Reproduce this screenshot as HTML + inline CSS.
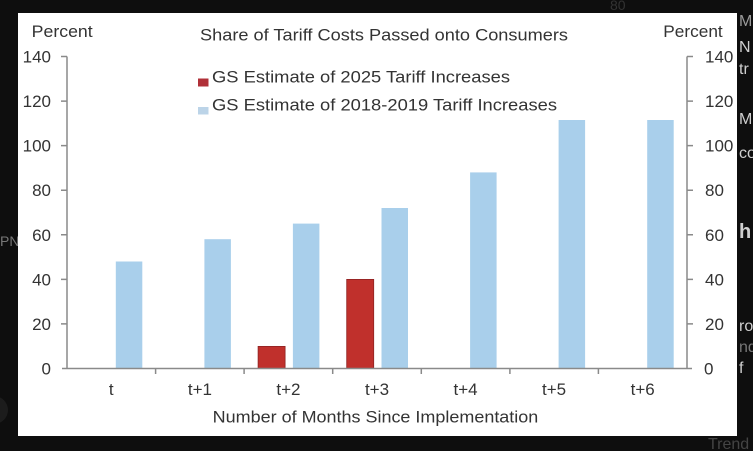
<!DOCTYPE html>
<html>
<head>
<meta charset="utf-8">
<style>
  html,body{margin:0;padding:0;background:#0e0e0e;}
  body{width:753px;height:451px;overflow:hidden;position:relative;}
  svg{position:absolute;left:0;top:0;}
</style>
</head>
<body>
<svg width="753" height="451" viewBox="0 0 753 451" xmlns="http://www.w3.org/2000/svg" font-family="Liberation Sans, Arial, sans-serif">
  <rect x="0" y="0" width="753" height="451" fill="#0e0e0e"/>
  <!-- faint background fragments -->
  <g fill="#cfcfcf" font-size="16">
    <text x="739" y="26" fill="#9a9a9a">M</text>
    <text x="739" y="52">N</text>
    <text x="739" y="74">tr</text>
    <text x="739" y="124">M</text>
    <text x="739" y="158">co</text>
    <text x="739" y="238" font-size="20" font-weight="bold">h</text>
    <text x="739" y="331">ro</text>
    <text x="739" y="352" fill="#777">nd</text>
    <text x="739" y="373">f</text>
    <text x="708" y="449" fill="#444">Trend</text>
    <text x="0" y="246" fill="#777" font-size="14">PN</text>
    <text x="610" y="10" fill="#333" font-size="14">80</text>
  </g>
  <circle cx="-6" cy="410" r="14" fill="#1c1c1c"/>

  <!-- white chart panel -->
  <rect x="18" y="13" width="719" height="423" fill="#ffffff"/>

  <!-- bars: blue -->
  <g fill="#a9cfeb">
    <rect x="115.8" y="261.5" width="26.5" height="107"/>
    <rect x="204.4" y="239.2" width="26.5" height="129.3"/>
    <rect x="292.9" y="223.6" width="26.5" height="144.9"/>
    <rect x="381.5" y="208.0" width="26.5" height="160.5"/>
    <rect x="470.1" y="172.4" width="26.5" height="196.1"/>
    <rect x="558.6" y="120.0" width="26.5" height="248.5"/>
    <rect x="647.2" y="120.0" width="26.5" height="248.5"/>
  </g>
  <!-- bars: red -->
  <g fill="#c0302c" stroke="#8e2222" stroke-width="0.8">
    <rect x="258.1" y="346.4" width="27" height="22.1"/>
    <rect x="346.7" y="279.4" width="27" height="89.1"/>
  </g>

  <!-- axes -->
  <g stroke="#8a8a8a" stroke-width="1.5" fill="none">
    <line x1="67" y1="56.5" x2="67" y2="369"/>
    <line x1="687" y1="56.5" x2="687" y2="369"/>
    <line x1="62" y1="368.5" x2="692" y2="368.5"/>
    <!-- left ticks -->
    <path d="M61 56.5H67 M61 101.1H67 M61 145.6H67 M61 190.2H67 M61 234.8H67 M61 279.4H67 M61 323.9H67"/>
    <!-- right ticks -->
    <path d="M687 56.5H693 M687 101.1H693 M687 145.6H693 M687 190.2H693 M687 234.8H693 M687 279.4H693 M687 323.9H693"/>
    <!-- x ticks -->
    <path d="M155.6 368.5V374 M244.1 368.5V374 M332.7 368.5V374 M421.3 368.5V374 M509.9 368.5V374 M598.4 368.5V374"/>
  </g>

  <g fill="#333333" font-size="17">
    <!-- headers -->
    <text x="31.7" y="37" textLength="61" lengthAdjust="spacingAndGlyphs">Percent</text>
    <text x="663.3" y="37" textLength="59.4" lengthAdjust="spacingAndGlyphs">Percent</text>
    <text x="200" y="40.5" textLength="368" lengthAdjust="spacingAndGlyphs">Share of Tariff  Costs Passed onto Consumers</text>

    <!-- legend -->
    <rect x="198" y="78.5" width="10.5" height="8" fill="#b03038"/>
    <text x="212" y="82.3" textLength="298" lengthAdjust="spacingAndGlyphs">GS Estimate of 2025 Tariff Increases</text>
    <rect x="198" y="107" width="10.5" height="7.5" fill="#bcd4e8"/>
    <text x="212" y="110.7" textLength="345" lengthAdjust="spacingAndGlyphs">GS Estimate of 2018-2019 Tariff Increases</text>

    <!-- left y labels -->
    <g text-anchor="end">
      <text x="51" y="62.5">140</text>
      <text x="51" y="107.1">120</text>
      <text x="51" y="151.6">100</text>
      <text x="51" y="196.2">80</text>
      <text x="51" y="240.8">60</text>
      <text x="51" y="285.4">40</text>
      <text x="51" y="329.9">20</text>
      <text x="51" y="374.5">0</text>
    </g>
    <!-- right y labels -->
    <g text-anchor="start">
      <text x="705" y="62.5">140</text>
      <text x="705" y="107.1">120</text>
      <text x="705" y="151.6">100</text>
      <text x="705" y="196.2">80</text>
      <text x="705" y="240.8">60</text>
      <text x="705" y="285.4">40</text>
      <text x="705" y="329.9">20</text>
      <text x="704" y="374.5">0</text>
    </g>
    <!-- x labels -->
    <g text-anchor="middle">
      <text x="111.3" y="395">t</text>
      <text x="199.9" y="395">t+1</text>
      <text x="288.4" y="395">t+2</text>
      <text x="377" y="395">t+3</text>
      <text x="465.6" y="395">t+4</text>
      <text x="554.1" y="395">t+5</text>
      <text x="642.7" y="395">t+6</text>
    </g>
    <text x="212.7" y="422.7" textLength="325.6" lengthAdjust="spacingAndGlyphs">Number of Months Since Implementation</text>
  </g>
</svg>
</body>
</html>
